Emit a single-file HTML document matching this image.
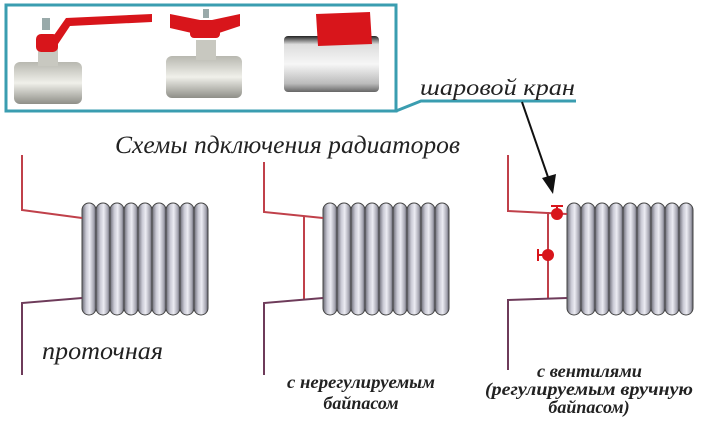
<!DOCTYPE html>
<html><head><meta charset="utf-8"><style>
html,body{margin:0;padding:0;background:#fff;}
svg{display:block;}
text{font-family:"Liberation Serif","Noto Serif CJK SC",serif;font-style:italic;fill:#222;}
</style></head><body>
<svg width="724" height="431" viewBox="0 0 724 431" xmlns="http://www.w3.org/2000/svg">
<defs>
<linearGradient id="sec" x1="0" x2="1" y1="0" y2="0">
<stop offset="0" stop-color="#6a6a75"/><stop offset="0.3" stop-color="#c9c9d4"/><stop offset="0.55" stop-color="#ececf3"/><stop offset="0.85" stop-color="#a4a4b0"/><stop offset="1" stop-color="#5b5b66"/>
</linearGradient>
<linearGradient id="brass" x1="0" x2="0" y1="0" y2="1">
<stop offset="0" stop-color="#b8b8b0"/><stop offset="0.5" stop-color="#f0f0ea"/><stop offset="1" stop-color="#8f8f88"/>
</linearGradient>
<linearGradient id="chrome" x1="0" x2="0" y1="0" y2="1">
<stop offset="0" stop-color="#222"/><stop offset="0.15" stop-color="#ddd"/><stop offset="0.5" stop-color="#f6f6f6"/><stop offset="0.85" stop-color="#bbb"/><stop offset="1" stop-color="#666"/>
</linearGradient>
<g id="rad">
<rect x="0" y="0" width="14" height="112" rx="7" fill="url(#sec)" stroke="#444" stroke-width="1"/>
<rect x="14" y="0" width="14" height="112" rx="7" fill="url(#sec)" stroke="#444" stroke-width="1"/>
<rect x="28" y="0" width="14" height="112" rx="7" fill="url(#sec)" stroke="#444" stroke-width="1"/>
<rect x="42" y="0" width="14" height="112" rx="7" fill="url(#sec)" stroke="#444" stroke-width="1"/>
<rect x="56" y="0" width="14" height="112" rx="7" fill="url(#sec)" stroke="#444" stroke-width="1"/>
<rect x="70" y="0" width="14" height="112" rx="7" fill="url(#sec)" stroke="#444" stroke-width="1"/>
<rect x="84" y="0" width="14" height="112" rx="7" fill="url(#sec)" stroke="#444" stroke-width="1"/>
<rect x="98" y="0" width="14" height="112" rx="7" fill="url(#sec)" stroke="#444" stroke-width="1"/>
<rect x="112" y="0" width="14" height="112" rx="7" fill="url(#sec)" stroke="#444" stroke-width="1"/>
</g>
</defs>

<!-- top frame -->
<rect x="6" y="5" width="390" height="106" fill="#fff" stroke="#3a9db0" stroke-width="3"/>
<polyline points="396,111 421,101 576,101" fill="none" stroke="#3a9db0" stroke-width="3"/>
<text x="420" y="95" font-size="23" textLength="155" lengthAdjust="spacingAndGlyphs">шаровой кран</text>
<line x1="522" y1="102" x2="549" y2="180" stroke="#111" stroke-width="2"/>
<polygon points="542,178 556,174 553,194" fill="#111"/>

<!-- valve 1 -->
<rect x="14" y="62" width="68" height="42" rx="6" fill="url(#brass)"/>
<rect x="38" y="46" width="20" height="20" fill="#c8c8c0"/>
<rect x="36" y="34" width="22" height="18" rx="5" fill="#d8151b"/>
<polygon points="52,38 66,18 152,14 152,22 70,26 58,44" fill="#d8151b"/>
<rect x="42" y="18" width="8" height="12" fill="#9aa"/>
<!-- valve 2 -->
<rect x="166" y="56" width="76" height="42" rx="6" fill="url(#brass)"/>
<rect x="196" y="40" width="20" height="20" fill="#c8c8c0"/>
<polygon points="170,14 200,20 212,20 240,14 240,26 216,34 196,34 170,28" fill="#d8151b"/>
<rect x="190" y="22" width="30" height="16" rx="4" fill="#d8151b"/>
<rect x="203" y="9" width="6" height="9" fill="#9aa"/>
<!-- valve 3 -->
<rect x="284" y="36" width="95" height="56" rx="4" fill="url(#chrome)"/>
<polygon points="316,14 370,12 372,44 318,46" fill="#d8151b"/>

<text x="115" y="153" font-size="25" textLength="345" lengthAdjust="spacingAndGlyphs">Схемы пдключения радиаторов</text>

<!-- radiator 1 -->
<use href="#rad" x="82" y="203"/>
<polyline points="22,155 22,210 82,218" fill="none" stroke="#c0404a" stroke-width="2"/>
<polyline points="82,298 22,303 22,375" fill="none" stroke="#6e3b5a" stroke-width="2"/>
<text x="42" y="359" font-size="25" textLength="121" lengthAdjust="spacingAndGlyphs">проточная</text>

<!-- radiator 2 -->
<use href="#rad" x="323" y="203"/>
<polyline points="264,162 264,212 323,218" fill="none" stroke="#c0404a" stroke-width="2"/>
<line x1="304" y1="216" x2="304" y2="300" stroke="#c0404a" stroke-width="2"/>
<polyline points="323,298 264,303 264,375" fill="none" stroke="#6e3b5a" stroke-width="2"/>
<text x="287" y="388" font-size="18" font-weight="bold" textLength="148" lengthAdjust="spacingAndGlyphs">с нерегулируемым</text>
<text x="361" y="409" font-size="18" font-weight="bold" text-anchor="middle">байпасом</text>

<!-- radiator 3 -->
<use href="#rad" x="567" y="203"/>
<polyline points="508,155 508,211 567,214" fill="none" stroke="#c0404a" stroke-width="2"/>
<line x1="548" y1="212" x2="548" y2="298" stroke="#c0404a" stroke-width="2"/>
<polyline points="567,298 508,300 508,370" fill="none" stroke="#6e3b5a" stroke-width="2"/>
<circle cx="557" cy="214" r="6" fill="#d8151b"/>
<line x1="551" y1="206" x2="563" y2="206" stroke="#d8151b" stroke-width="2"/>
<line x1="557" y1="206" x2="557" y2="210" stroke="#d8151b" stroke-width="2"/>
<circle cx="548" cy="255" r="6" fill="#d8151b"/>
<line x1="538" y1="249" x2="538" y2="261" stroke="#d8151b" stroke-width="2"/>
<line x1="538" y1="255" x2="543" y2="255" stroke="#d8151b" stroke-width="2"/>
<text x="537" y="377" font-size="18" font-weight="bold" textLength="105" lengthAdjust="spacingAndGlyphs">с вентилями</text>
<text x="485" y="395" font-size="18" font-weight="bold" textLength="208" lengthAdjust="spacingAndGlyphs">(регулируемым вручную</text>
<text x="589" y="413" font-size="18" font-weight="bold" text-anchor="middle">байпасом)</text>
</svg>
</body></html>
